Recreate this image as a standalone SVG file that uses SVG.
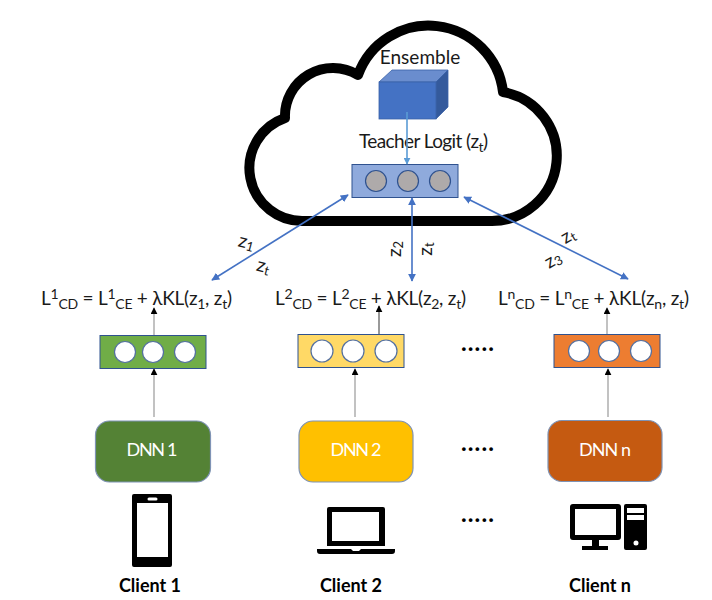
<svg xmlns="http://www.w3.org/2000/svg" width="712" height="600" viewBox="0 0 712 600">
<style>
text{font-family:"Lato","Open Sans","Liberation Sans",sans-serif;fill:#1a1a1a;font-size:19px}
.s{font-size:14px}
.dnn{fill:#fff;text-anchor:middle;font-size:18px}
.cl{font-weight:700;text-anchor:middle;fill:#000;font-size:18px}
.dots{font-weight:700;font-size:24px;letter-spacing:1.1px;fill:#000}
.z{font-size:19px;text-anchor:middle}
.sz{font-size:13px}
.box{stroke:#2F528F;stroke-width:1}
.c{fill:#fff;stroke:#5470a0;stroke-width:1.2}
.t{fill:#AEAAAA;stroke:#2F528F;stroke-width:1.2}
.d{stroke:#7f93b5;stroke-width:1.2}
.blue{stroke:#4472C4;stroke-width:1.6;fill:none;marker-start:url(#hb);marker-end:url(#hb)}
.gr{stroke:#999;stroke-width:1.2;fill:none;marker-end:url(#hk)}
</style>
<defs>
<marker id="hb" viewBox="0 0 10 10" refX="9" refY="5" markerWidth="8" markerHeight="8" markerUnits="userSpaceOnUse" orient="auto-start-reverse"><path d="M0 0L10 5L0 10Z" fill="#4472C4"/></marker>
<marker id="hk" viewBox="0 0 10 10" refX="9" refY="5" markerWidth="7" markerHeight="7" markerUnits="userSpaceOnUse" orient="auto"><path d="M0 0L10 5L0 10Z" fill="#000"/></marker>
<marker id="hl" viewBox="0 0 10 10" refX="9" refY="5" markerWidth="7" markerHeight="7" markerUnits="userSpaceOnUse" orient="auto"><path d="M0 0L10 5L0 10Z" fill="#5B9BD5"/></marker>
</defs>
<rect width="712" height="600" fill="#fff"/>
<g id="cloud"><path d="M305 221A53 53 0 0 1 285 118A48 48 0 0 1 358 75A75 75 0 0 1 503 92A65 65 0 0 1 490 221Z" fill="#fff" stroke="#000" stroke-width="10" stroke-linejoin="round"/></g>
<g id="ensemble">
<path d="M379 82L392 70H448L436 82Z" fill="#6A8DCE" stroke="#3A62A8" stroke-width=".8"/>
<path d="M436 82L448 70V107L436 119Z" fill="#345A9C" stroke="#3A62A8" stroke-width=".8"/>
<rect x="379" y="82" width="57" height="37" fill="#4472C4" stroke="#3A62A8" stroke-width=".8"/>
<text x="420" y="64" text-anchor="middle">Ensemble</text>
</g>
<g id="teacher">
<text x="359" y="148" textLength="129" lengthAdjust="spacing">Teacher Logit (z<tspan class="s" dy="4">t</tspan><tspan dy="-4">)</tspan></text>
<rect class="box" x="352" y="164.500" width="106" height="33" fill="#8FAADC"/>
<circle class="t" cx="376" cy="181" r="10.500"/><circle class="t" cx="408" cy="181" r="10.500"/><circle class="t" cx="440" cy="181" r="10.500"/>
</g>
<g id="connectors">
<path d="M407 112V164" stroke="#5B9BD5" stroke-width="1.600" marker-end="url(#hl)" fill="none"/>
<path class="blue" d="M348 195L212 280"/>
<path class="blue" d="M412 198V281"/>
<path class="blue" d="M464 197L628 279"/>
<path class="gr" d="M154 335V308"/><path class="gr" d="M154 417V369"/>
<path class="gr" d="M379 334V306" style="stroke:#555"/><path class="gr" d="M355 417V369"/>
<path class="gr" d="M607 334V308"/><path class="gr" d="M608 417V369"/>
</g>
<g id="labels">
<text class="z" transform="translate(245 248) rotate(15)">z<tspan class="sz" dy="2">1</tspan></text>
<text class="z" transform="translate(262 272) rotate(15)">z<tspan class="sz" dy="2">t</tspan></text>
<text class="z" transform="translate(401 249) rotate(-90)">z<tspan class="sz" dy="2">2</tspan></text>
<text class="z" transform="translate(432 249) rotate(-90)">z<tspan class="sz" dy="2">t</tspan></text>
<text class="z" transform="translate(571 241) rotate(-30)">z<tspan class="sz" dy="2">t</tspan></text>
<text class="z" transform="translate(556 265) rotate(-30)">z<tspan class="sz" dy="2">3</tspan></text>
</g>
<g id="loss1"><text x="41" y="305" textLength="191" lengthAdjust="spacing">L<tspan class="s" dy="-6">1</tspan><tspan class="s" dy="10">CD</tspan><tspan dy="-4"> = L</tspan><tspan class="s" dy="-6">1</tspan><tspan class="s" dy="10">CE</tspan><tspan dy="-4"> + λKL(z</tspan><tspan class="s" dy="4">1</tspan><tspan dy="-4">, z</tspan><tspan class="s" dy="4">t</tspan><tspan dy="-4">)</tspan></text></g>
<g id="loss2"><text x="275" y="305" textLength="191" lengthAdjust="spacing">L<tspan class="s" dy="-6">2</tspan><tspan class="s" dy="10">CD</tspan><tspan dy="-4"> = L</tspan><tspan class="s" dy="-6">2</tspan><tspan class="s" dy="10">CE</tspan><tspan dy="-4"> + λKL(z</tspan><tspan class="s" dy="4">2</tspan><tspan dy="-4">, z</tspan><tspan class="s" dy="4">t</tspan><tspan dy="-4">)</tspan></text></g>
<g id="lossn"><text x="498" y="305" textLength="191" lengthAdjust="spacing">L<tspan class="s" dy="-6">n</tspan><tspan class="s" dy="10">CD</tspan><tspan dy="-4"> = L</tspan><tspan class="s" dy="-6">n</tspan><tspan class="s" dy="10">CE</tspan><tspan dy="-4"> + λKL(z</tspan><tspan class="s" dy="4">n</tspan><tspan dy="-4">, z</tspan><tspan class="s" dy="4">t</tspan><tspan dy="-4">)</tspan></text></g>
<g id="logit1"><rect class="box" x="100" y="335.500" width="106" height="33" fill="#70AD47"/><circle class="c" cx="125" cy="352" r="10.500"/><circle class="c" cx="153" cy="352" r="10.500"/><circle class="c" cx="185" cy="352" r="10.500"/></g>
<g id="logit2"><rect class="box" x="298" y="334.500" width="106" height="33" fill="#FFD966"/><circle class="c" cx="322" cy="351" r="11"/><circle class="c" cx="353" cy="351" r="11"/><circle class="c" cx="386" cy="351" r="11"/></g>
<g id="logitn"><rect class="box" x="554" y="334.500" width="106" height="33" fill="#ED7D31"/><circle class="c" cx="579" cy="351" r="10.500"/><circle class="c" cx="609" cy="351" r="10.500"/><circle class="c" cx="641" cy="351" r="10.500"/></g>
<g id="dnn1"><rect class="d" x="95.500" y="421" width="115" height="61" rx="14" fill="#548235"/><text class="dnn" x="152" y="456" textLength="51" lengthAdjust="spacing">DNN 1</text></g>
<g id="dnn2"><rect class="d" x="299" y="421" width="114" height="61" rx="14" fill="#FFC000"/><text class="dnn" x="356" y="456" textLength="51" lengthAdjust="spacing">DNN 2</text></g>
<g id="dnnn"><rect class="d" x="548" y="420.500" width="114" height="61" rx="14" fill="#C55A11"/><text class="dnn" x="605" y="456" textLength="52" lengthAdjust="spacing">DNN n</text></g>
<text class="dots" x="461" y="351">.....</text>
<text class="dots" x="461" y="451">.....</text>
<text class="dots" x="461" y="522">.....</text>
<g id="client1"><path fill-rule="evenodd" d="M134 494H170A2 2 0 0 1 172 496V565A2 2 0 0 1 170 567H134A2 2 0 0 1 132 565V496A2 2 0 0 1 134 494ZM137 503V557H168V503ZM149 497.500A1.500 1.500 0 0 0 149 500.500H156A1.500 1.500 0 0 0 156 497.500Z" fill="#000"/><text class="cl" x="150" y="592">Client 1</text></g>
<g id="client2"><path fill-rule="evenodd" d="M329 507H383A2 2 0 0 1 385 509V546H327V509A2 2 0 0 1 329 507ZM332 512V541H379V512Z" fill="#000"/><path d="M317 549H351L353 551H359L361 549H395V551A3 3 0 0 1 392 554H320A3 3 0 0 1 317 551Z" fill="#000"/><text class="cl" x="351" y="592">Client 2</text></g>
<g id="clientn"><path fill-rule="evenodd" d="M573 504H618A3 3 0 0 1 621 507V537A3 3 0 0 1 618 540H599V546H608V550H582V546H592V540H573A3 3 0 0 1 570 537V507A3 3 0 0 1 573 504ZM575 509V535H616V509Z" fill="#000"/><path fill-rule="evenodd" d="M626 504H645A2 2 0 0 1 647 506V548A2 2 0 0 1 645 550H626A2 2 0 0 1 624 548V506A2 2 0 0 1 626 504ZM627 508V513H644V508ZM627 515V520H644V515ZM636 540.500A2.500 2.500 0 1 0 636 545.500A2.500 2.500 0 1 0 636 540.500Z" fill="#000"/><text class="cl" x="600" y="592">Client n</text></g>
</svg>
